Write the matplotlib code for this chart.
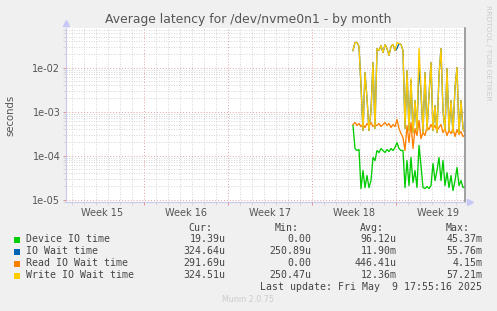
import numpy as np
import matplotlib
matplotlib.use('Agg')
import matplotlib.pyplot as plt
from matplotlib.patches import Rectangle
from matplotlib.ticker import FixedLocator, FuncFormatter, NullFormatter

plt.rcParams['font.family'] = ['DejaVu Sans']

# data: samples every 4 hours, hours counted from the start of week 15
start_hour = 586
step_hours = 4

device_io = [0.000481, 0.000144, 0.000130, 0.000137, 0.0000178, 0.0000456, 0.0000187, 0.0000351,
             0.0000187, 0.0000270, 0.0000901, 0.0000770, 0.000130, 0.000117, 0.000144, 0.000130,
             0.000117, 0.000137, 0.000123, 0.000144, 0.000130, 0.000152, 0.000197, 0.000144,
             0.000130, 0.000130, 0.0000187, 0.0000770, 0.0000208, 0.0000901, 0.0000243, 0.0000456,
             0.0000187, 0.000169, 0.0000593, 0.0000187, 0.0000178, 0.0000197, 0.0000178, 0.0000208,
             0.0000658, 0.0000270, 0.0000456, 0.0000901, 0.0000270, 0.0000770, 0.0000208, 0.0000411,
             0.0000187, 0.0000351, 0.0000160, 0.0000270, 0.0000534, 0.0000208, 0.0000270, 0.0000187,
             0.00001939]

write_wait = [0.0243, 0.0370, 0.0370, 0.0300, 0.00390, 0.000370, 0.00769, 0.00197,
              0.000370, 0.00105, 0.0130, 0.000411, 0.0270, 0.0243, 0.0316, 0.0219,
              0.0333, 0.0270, 0.0188, 0.0300, 0.0333, 0.0243, 0.0370, 0.0351,
              0.0333, 0.0243, 0.000411, 0.00855, 0.000370, 0.00562, 0.000333, 0.00178,
              0.000370, 0.0270, 0.00300, 0.000333, 0.00769, 0.000370, 0.00231, 0.0130,
              0.000370, 0.00137, 0.000333, 0.00658, 0.0270, 0.00105, 0.000370, 0.00949,
              0.000370, 0.00178, 0.000333, 0.00351, 0.0100, 0.000316, 0.00178, 0.000411,
              0.000325]

io_wait = [0.0243, 0.0370, 0.0370, 0.0300, 0.00390, 0.000370, 0.00769, 0.00197,
           0.000370, 0.00105, 0.0130, 0.000411, 0.0270, 0.0243, 0.0316, 0.0219,
           0.0333, 0.0270, 0.0188, 0.0300, 0.0333, 0.0243, 0.0270, 0.0351,
           0.0333, 0.0243, 0.000411, 0.00855, 0.000370, 0.00507, 0.000333, 0.00178,
           0.000370, 0.0111, 0.00270, 0.000333, 0.00769, 0.000370, 0.00231, 0.0130,
           0.000370, 0.00137, 0.000333, 0.00658, 0.0270, 0.00105, 0.000370, 0.00949,
           0.000370, 0.00178, 0.000333, 0.00351, 0.0100, 0.000316, 0.00178, 0.000411,
           0.000325]

read_wait = [0.000507, 0.000562, 0.000481, 0.000533, 0.000456, 0.000507, 0.000433, 0.000533,
             0.000481, 0.000562, 0.000456, 0.000507, 0.000481, 0.000533, 0.000456, 0.000507,
             0.000562, 0.000481, 0.000533, 0.000433, 0.000507, 0.000456, 0.000658, 0.000411,
             0.000316, 0.000257, 0.000130, 0.000481, 0.000197, 0.000562, 0.000144, 0.000411,
             0.000285, 0.000624, 0.000243, 0.000333, 0.000285, 0.000456, 0.000390, 0.000507,
             0.000411, 0.000481, 0.000370, 0.000433, 0.000507, 0.000333, 0.000411, 0.000285,
             0.000370, 0.000316, 0.000411, 0.000270, 0.000390, 0.000300, 0.000351, 0.000270,
             0.000292]

series_names = ['Device IO time', 'IO Wait time', 'Read IO Wait time', 'Write IO Wait time']
series_colors = ['#00CC00', '#0066B3', '#FF8000', '#FFCC00']
cur_vals = ['19.39u', '324.64u', '291.69u', '324.51u']
min_vals = ['0.00', '250.89u', '0.00', '250.47u']
avg_vals = ['96.12u', '11.90m', '446.41u', '12.36m']
max_vals = ['45.37m', '55.76m', '4.15m', '57.21m']
week_labels = ['Week 15', 'Week 16', 'Week 17', 'Week 18', 'Week 19']

W, H = 497, 311


def fx(px):
    return px / W


def fy(py):
    return 1 - py / H


fig = plt.figure(figsize=(W / 100, H / 100), dpi=100, facecolor='#F0F0F0')
ax = fig.add_axes([fx(66), fy(202), fx(465) - fx(66), fy(28) - fy(202)])
ax.set_facecolor('white')

hours = start_hour + step_hours * np.arange(len(device_io))
for vals, color in zip([device_io, io_wait, read_wait, write_wait], series_colors):
    ax.plot(hours, vals, color=color, linewidth=0.95)

ax.set_yscale('log')
ax.set_ylim(8.8e-6, 0.079)
ax.set_xlim(12, 810)

# grid
decades = [1e-5, 1e-4, 1e-3, 1e-2]
minors = [m * d for d in [1e-6, 1e-5, 1e-4, 1e-3, 1e-2] for m in range(2, 10)]
ax.yaxis.set_major_locator(FixedLocator(decades))
ax.yaxis.set_minor_locator(FixedLocator(minors))
ax.yaxis.set_major_formatter(FuncFormatter(lambda v, p: '%.0e' % v))
ax.yaxis.set_minor_formatter(NullFormatter())

week_bounds = [168 * i for i in range(1, 5)]
days = [24 * i for i in range(1, 34) if i % 7 != 0]
ax.xaxis.set_major_locator(FixedLocator(week_bounds))
ax.xaxis.set_minor_locator(FixedLocator(days))
ax.xaxis.set_major_formatter(NullFormatter())

ax.grid(True, which='minor', color='#C8C8C8', linestyle=(0, (1, 2)), linewidth=0.6)
ax.grid(True, which='major', color='#E0A0A0', linestyle=(0, (1, 2)), linewidth=0.7)
ax.set_axisbelow(True)

ax.tick_params(axis='both', which='major', length=2, width=0.6, color='#E08080',
               labelsize=7, labelcolor='#555555', pad=2)
ax.tick_params(axis='both', which='minor', length=2, width=0.5, color='#C8C8C8')

for i, lab in enumerate(week_labels):
    ax.text(84 + 168 * i, -0.035, lab, transform=ax.get_xaxis_transform(),
            ha='center', va='top', fontsize=7, color='#555555')

ax.spines['top'].set_visible(False)
ax.spines['left'].set_color('#C8C8F0')
ax.spines['bottom'].set_color('#C8C8F0')
ax.spines['right'].set_color('#888888')
ax.spines['right'].set_linewidth(1.1)

# axis arrows
ax.plot([1.012], [0], marker='>', markersize=5, color='#C8C8F8', transform=ax.transAxes, clip_on=False)
ax.plot([0], [1.03], marker='^', markersize=5, color='#C8C8F8', transform=ax.transAxes, clip_on=False)

fig.text(fx(248), fy(19), 'Average latency for /dev/nvme0n1 - by month', ha='center', va='center',
         fontsize=8.9, color='#555555')
fig.text(fx(10), fy(115), 'seconds', rotation=90, ha='center', va='center', fontsize=7.3, color='#555555')
fig.text(fx(488), fy(5), 'RRDTOOL / TOBI OETIKER', rotation=270, ha='center', va='top',
         fontsize=5.4, color='#CCCCCC')

# legend block
mono = dict(family='DejaVu Sans Mono', fontsize=7.1, color='#444444')
header_y = 227.7
for lab, xr in zip(['Cur:', 'Min:', 'Avg:', 'Max:'], [212.3, 298.3, 384, 470]):
    fig.text(fx(xr), fy(header_y), lab, ha='right', va='center', **mono)

for i, name in enumerate(series_names):
    y = 239.5 + 12 * i
    fig.patches.append(Rectangle((fx(14.3), fy(y + 3)), fx(6), fy(0) - fy(6),
                                 transform=fig.transFigure, facecolor=series_colors[i],
                                 edgecolor='none'))
    fig.text(fx(26), fy(y), name, ha='left', va='center', **mono)
    for col, xr in zip([cur_vals, min_vals, avg_vals, max_vals], [225.7, 311, 396.7, 482.3]):
        fig.text(fx(xr), fy(y), col[i], ha='right', va='center', **mono)

fig.text(fx(482.3), fy(287.3), 'Last update: Fri May  9 17:55:16 2025', ha='right', va='center', **mono)
fig.text(fx(248), fy(300), 'Munin 2.0.75', ha='center', va='center', fontsize=5.8, color='#CCCCCC')

fig.savefig('out.png', dpi=100, facecolor=fig.get_facecolor())
